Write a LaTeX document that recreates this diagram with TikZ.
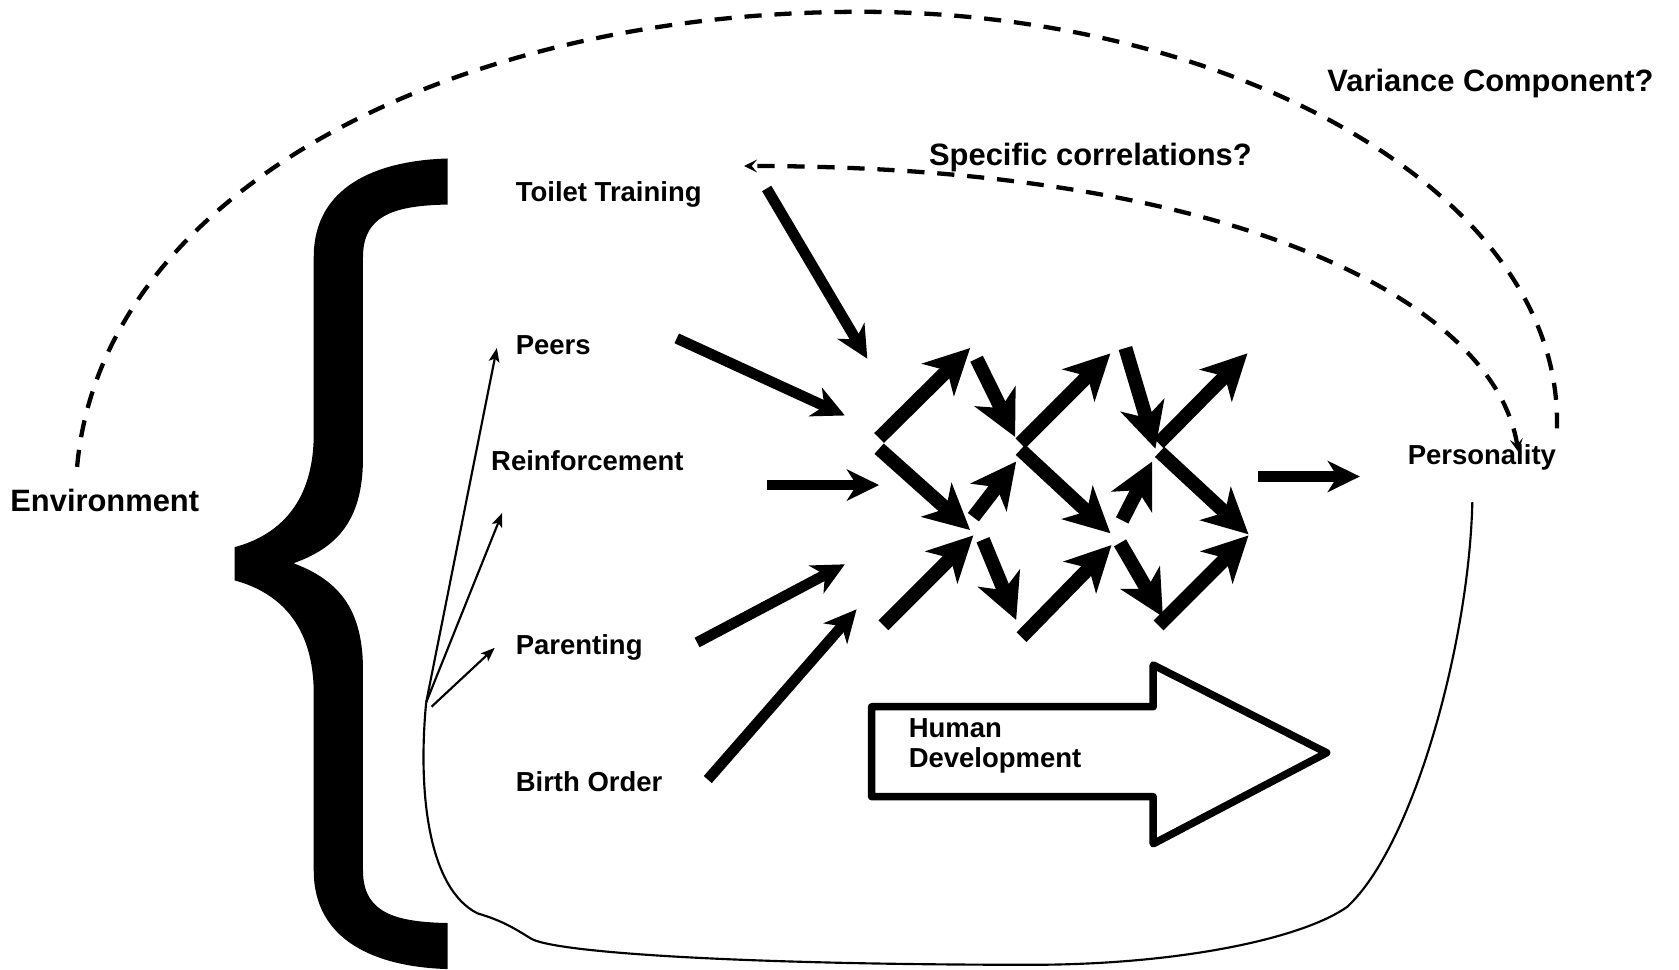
\documentclass[tikz,border=0pt]{standalone}
\usepackage{fontspec}
\setmainfont{Liberation Sans}
\usetikzlibrary{arrows.meta}

\begin{document}
\begin{tikzpicture}[
        x=0.01cm, y=-0.01cm,
        lbl/.style={anchor=base west, inner sep=0pt,
                    font=\fontsize{7.3}{8.8}\selectfont\bfseries},
        biglbl/.style={lbl, font=\fontsize{8.2}{9.8}\selectfont\bfseries},
        inarr/.style={-{Stealth[length=0.3cm, width=0.29cm, inset=0.09cm]}, line width=0.1cm},
        netarr/.style={-{Stealth[length=0.42cm, width=0.42cm, inset=0.12cm]}, line width=0.13cm},
        fanarr/.style={-{Stealth[length=0.13cm, width=0.1cm, inset=0.03cm]}, line width=0.02cm},
        dashline/.style={dash pattern=on 0.16cm off 0.12cm, line width=0.04cm},
        corrarr/.style={dashline, {Stealth[length=0.12cm, width=0.12cm, inset=0.05cm]}-{Stealth[length=0.12cm, width=0.12cm, inset=0.05cm]}}
    ]
        \useasboundingbox (0,0) rectangle (1568,905);

        % labels
        \node[biglbl] (env) at (9,478) {Environment};
        \node[lbl] (toilet) at (481,188) {Toilet Training};
        \node[lbl] (peers) at (481,331) {Peers};
        \node[lbl] (reinf) at (458,439) {Reinforcement};
        \node[lbl] (parent) at (481,611) {Parenting};
        \node[lbl] (birth) at (481,739) {Birth Order};
        \node[lbl] (pers) at (1314,434) {Personality};
        \node[biglbl] (spec) at (867,155) {Specific correlations?};
        \node[biglbl] (var) at (1239,85) {Variance Component?};
        \node[lbl] (human) at (848,689) {Human};
        \node[lbl] (devel) at (848,717) {Development};

        % the brace
        \fill (418,148) -- (418,191) .. controls (370,192) and (339,200) .. (339,240)
            -- (339,427) .. controls (339,480) and (320,510) .. (274,526)
            .. controls (320,543) and (339,573) .. (339,626)
            -- (339,813) .. controls (339,853) and (370,861) .. (418,862)
            -- (418,905) .. controls (350,903) and (293,878) .. (293,813)
            -- (293,648) .. controls (293,583) and (260,553) .. (219,542)
            -- (219,511) .. controls (260,500) and (293,470) .. (293,405)
            -- (293,240) .. controls (293,175) and (350,150) .. (418,148) -- cycle;

        % end points
        \coordinate (root) at (398,656);
        \coordinate (root2) at (403,660);
        \coordinate (peers-fan) at (464,325);
        \coordinate (reinf-fan) at (469,479);
        \coordinate (parent-fan) at (462,605);
        \coordinate (toilet-out) at (716,176);
        \coordinate (toilet-in) at (810,335);
        \coordinate (peers-out) at (632,316);
        \coordinate (peers-in) at (789,388);
        \coordinate (reinf-out) at (716,453);
        \coordinate (reinf-in) at (821,453);
        \coordinate (parent-out) at (651,600);
        \coordinate (parent-in) at (789,527);
        \coordinate (birth-out) at (661,728);
        \coordinate (birth-in) at (800,569);
        \coordinate (net-out) at (1175,445);
        \coordinate (pers-in) at (1270,445);
        \coordinate (pers-top) at (1418,422);
        \coordinate (pers-bot) at (1375,469);
        \coordinate (spec-end) at (695,155);
        \coordinate (env-top) at (72,436);
        \coordinate (var-end) at (1454,400);

        % fan of thin arrows
        \draw[fanarr] (root) -- (peers-fan);
        \draw[fanarr] (root) -- (reinf-fan);
        \draw[fanarr] (root2) -- (parent-fan);

        % loop round to personality
        \draw[line width=0.02cm] (root) .. controls (390,740) and (400,830) .. (446,853)
            .. controls (470,860) and (482,868) .. (495,876)
            .. controls (515,890) and (700,901) .. (963,901)
            .. controls (1100,901) and (1215,877) .. (1258,847)
            .. controls (1320,790) and (1372,600) .. (pers-bot);

        % inputs
        \draw[inarr] (toilet-out) -- (toilet-in);
        \draw[inarr] (peers-out) -- (peers-in);
        \draw[inarr] (reinf-out) -- (reinf-in);
        \draw[inarr] (parent-out) -- (parent-in);
        \draw[inarr] (birth-out) -- (birth-in);
        \draw[inarr] (net-out) -- (pers-in);

        % network
        \draw[netarr] (821,409) -- (906,325);
        \draw[netarr] (821,419) -- (906,495);
        \draw[netarr] (912,335) -- (948,408);
        \draw[netarr] (909,483) -- (949,431);
        \draw[netarr] (825,584) -- (909,500);
        \draw[netarr] (918,504) -- (949,579);
        \draw[netarr] (953,414) -- (1037,330);
        \draw[netarr] (953,420) -- (1037,498);
        \draw[netarr] (1051,325) -- (1079,419);
        \draw[netarr] (1048,486) -- (1076,431);
        \draw[netarr] (954,595) -- (1038,509);
        \draw[netarr] (1046,507) -- (1086,576);
        \draw[netarr] (1082,414) -- (1165,330);
        \draw[netarr] (1083,422) -- (1166,499);
        \draw[netarr] (1082,584) -- (1166,500);

        % human development block arrow
        \draw[line width=0.07cm, line join=round] (814,660) -- (1077,660) -- (1077,621)
            -- (1239,703) -- (1077,788) -- (1077,744) -- (814,744) -- cycle;

        % dashed links
        \draw[dashline] (env-top) .. controls (95,180) and (420,11) .. (804,11)
            .. controls (1150,11) and (1460,180) .. (var-end);
        \draw[corrarr] (pers-top) .. controls (1395,280) and (1150,155) .. (spec-end);
\end{tikzpicture}
\end{document}
